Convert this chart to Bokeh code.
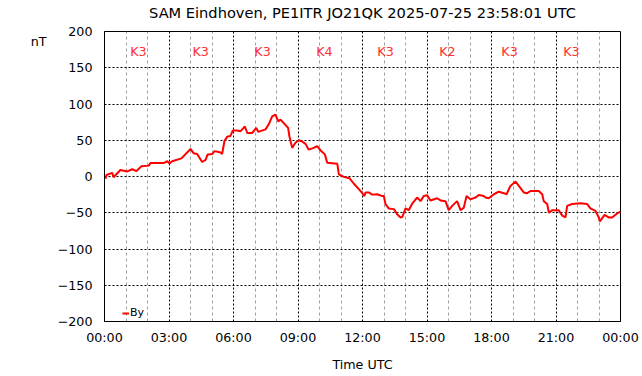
from bokeh.plotting import figure
from bokeh.models import Range1d, FixedTicker, Legend, LegendItem, ColumnDataSource, LinearAxis
from bokeh.core.properties import value
from bokeh.embed import file_html
from bokeh.resources import INLINE

# Data (hours since 00:00 UTC, By in nT)
hours = [0.05, 0.09, 0.36, 0.42, 0.74, 1.06, 1.29, 1.49, 1.71, 2.06, 2.14, 2.74, 2.92, 3.02, 3.15,
         3.58, 4.0, 4.15, 4.31, 4.54, 4.70, 4.80, 5.01, 5.12, 5.40, 5.47, 5.58, 5.71, 5.86, 5.97,
         6.17, 6.33, 6.53, 6.64, 6.87, 7.06, 7.15, 7.49, 7.64, 7.80, 7.95, 8.08, 8.19, 8.39, 8.54,
         8.60, 8.73, 8.88, 9.04, 9.20, 9.35, 9.50, 9.73, 9.89, 10.05, 10.25, 10.36, 10.83, 10.90,
         11.13, 11.40, 11.60, 11.83, 11.99, 12.09, 12.14, 12.29, 12.45, 12.68, 12.92, 12.99, 13.07,
         13.22, 13.46, 13.61, 13.77, 13.85, 14.0, 14.15, 14.31, 14.54, 14.70, 14.85, 15.01, 15.16,
         15.47, 15.63, 15.86, 16.01, 16.17, 16.40, 16.56, 16.71, 16.84, 17.02, 17.26, 17.41, 17.64,
         17.72, 17.87, 18.11, 18.34, 18.57, 18.70, 18.88, 19.12, 19.27, 19.50, 19.66, 19.81, 20.2,
         20.36, 20.43, 20.59, 20.67, 20.82, 21.13, 21.29, 21.44, 21.52, 21.75, 22.14, 22.45, 22.60,
         22.84, 22.99, 23.04, 23.26, 23.45, 23.61, 23.84, 24.0]
by_nT = [-3, 2, 5, -1, 9, 7, 10, 7.5, 14, 15, 18.5, 18.5, 21, 18, 21,
         25, 38, 32, 31, 20, 23, 30.5, 31, 35, 33, 31, 49, 55, 56, 63.5,
         63.5, 62.5, 69, 60, 60, 67, 61.5, 65, 72, 83, 85.5, 76, 78.5, 72, 67,
         55.5, 39.5, 46.5, 50, 48, 45, 37, 39.5, 42, 36, 30.5, 19, 17.5, 3,
         -0.5, -2.5, -10, -17.5, -23, -27, -22, -22, -25, -24.5, -27, -27, -38,
         -44, -45, -52, -56.5, -56, -44, -46.5, -37.5, -29, -34, -27, -26, -33,
         -30, -33, -34, -46.5, -40.5, -34, -46.5, -43, -27, -31.5, -29, -25.5, -27,
         -29, -30, -24.5, -21, -23, -24.5, -13, -7, -13, -22, -23, -20, -20,
         -24.5, -34, -38, -50, -46.5, -46.5, -54, -56.5, -40.5, -38, -37, -38, -44,
         -47.5, -56.5, -62, -53, -56.5, -56.5, -51, -48.5]

# K-index annotations (hour position of label, label text)
k_hours = [1.58, 4.47, 7.35, 10.23, 13.07, 15.95, 18.84, 21.72]
k_labels = ["K3", "K3", "K3", "K4", "K3", "K2", "K3", "K3"]
k_level = 173

x_ticks = [0, 3, 6, 9, 12, 15, 18, 21, 24]
x_tick_labels = ["00:00", "03:00", "06:00", "09:00", "12:00", "15:00", "18:00", "21:00", "00:00"]
x_minor = [h for h in range(25) if h % 3 != 0]
y_ticks = [-200, -150, -100, -50, 0, 50, 100, 150, 200]
unit_tick = 186
unit_label = "nT"
title_tick = 12
title_text = "SAM Eindhoven, PE1ITR JO21QK 2025-07-25 23:58:01 UTC"

FONT = "DejaVu Sans"

p = figure(width=642, height=376, output_backend="svg", toolbar_location=None,
           x_range=Range1d(0, 24), y_range=Range1d(-200, 200),
           min_border_left=104, min_border_right=22, min_border_top=30, min_border_bottom=55)

p.title.text = ""
p.title.text_font_size = "0px"
p.title.standoff = 0
p.title.offset = 0

p.outline_line_color = "black"
p.outline_line_width = 1
p.background_fill_color = "white"
p.border_fill_color = "white"

bottom_ax = p.below[0]
left_ax = p.left[0]

bottom_ax.ticker = FixedTicker(ticks=x_ticks, minor_ticks=x_minor)
bottom_ax.major_label_overrides = {t: l for t, l in zip(x_ticks, x_tick_labels)}
left_ax.ticker = FixedTicker(ticks=y_ticks)

for ax in (bottom_ax, left_ax):
    ax.major_tick_line_color = None
    ax.minor_tick_line_color = None
    ax.major_tick_out = 0
    ax.minor_tick_out = 0
    ax.axis_line_color = "black"
    ax.major_label_text_font = FONT
    ax.major_label_text_font_size = "12.7px"
    ax.major_label_text_color = "#000000"
    ax.axis_label_text_font = FONT
    ax.axis_label_text_font_size = "12.7px"
    ax.axis_label_text_font_style = "normal"
    ax.axis_label_text_color = "#000000"

bottom_ax.axis_label = "Time UTC"
bottom_ax.major_label_standoff = 8
bottom_ax.axis_label_standoff = 9
left_ax.major_label_standoff = 12

p.xgrid.grid_line_color = "black"
p.xgrid.grid_line_dash = "2 2"
p.xgrid.minor_grid_line_color = "#a0a0a0"
p.xgrid.minor_grid_line_dash = "3 3"
p.ygrid.grid_line_color = "black"
p.ygrid.grid_line_dash = "2 2"

# title drawn as the single tick label of a top axis (centred on the frame)
title_ax = LinearAxis(ticker=FixedTicker(ticks=[title_tick]),
                      major_label_overrides={title_tick: title_text},
                      axis_line_color=None, major_tick_line_color=None, minor_tick_line_color=None,
                      major_tick_out=0, minor_tick_out=0, major_label_standoff=11,
                      major_label_text_font=FONT, major_label_text_font_size="14.6px",
                      major_label_text_color="#000000")
p.add_layout(title_ax, "above")

# unit label "nT" as a second, outer left axis
unit_ax = LinearAxis(ticker=FixedTicker(ticks=[unit_tick]),
                     major_label_overrides={unit_tick: unit_label},
                     axis_line_color=None, major_tick_line_color=None, minor_tick_line_color=None,
                     major_tick_out=0, minor_tick_out=0, major_label_standoff=8,
                     major_label_text_font=FONT, major_label_text_font_size="12.7px",
                     major_label_text_color="#000000")
p.add_layout(unit_ax, "left")

src = ColumnDataSource(dict(h=hours, v=by_nT))
r = p.line("h", "v", source=src, line_color="#ff0000", line_width=2)

ksrc = ColumnDataSource(dict(h=k_hours, y=[k_level] * len(k_hours), t=k_labels))
p.text("h", "y", text="t", source=ksrc, text_font=value(FONT), text_font_size="12.7px",
       text_color="#ff3030", text_align="center", text_baseline="middle")

legend = Legend(items=[LegendItem(label="By", renderers=[r])], location=(18, 2),
                background_fill_alpha=0, border_line_color=None, padding=0, margin=0,
                glyph_width=7, glyph_height=10, label_standoff=1, spacing=0,
                label_text_font=FONT, label_text_font_size="11px", label_height=10,
                label_text_color="#000000")
p.add_layout(legend)

open("out.html", "w").write(file_html(p, INLINE))
